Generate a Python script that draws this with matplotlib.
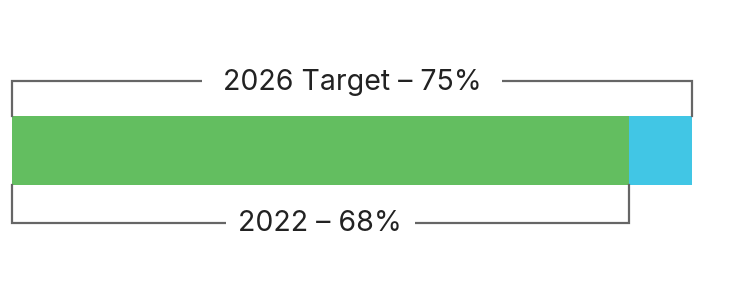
import matplotlib.pyplot as plt

# values (percent)
current_year = "2022"
current_value = 68
target_year = "2026"
target_value = 75

green = "#63BE60"
blue = "#41C6E5"
line_color = "#666666"
text_color = "#222222"

plt.rcParams["font.family"] = ["Inter", "DejaVu Sans"]

fig = plt.figure(figsize=(7.5, 3), dpi=100)
ax = fig.add_axes([0, 0, 1, 1])

# scale: 0% at 12px, 75% at 692px
px_per_unit = 680 / 75
ax.set_xlim(-12 / px_per_unit, (750 - 12) / px_per_unit)
ax.set_ylim(300, 0)
ax.axis("off")

bar_y = 150.5
bar_h = 69
ax.barh(bar_y, current_value, height=bar_h, left=0, color=green, linewidth=0)
ax.barh(bar_y, target_value - current_value, height=bar_h, left=current_value,
        color=blue, linewidth=0)

top_y = 81
bot_y = 222.5
bar_top = bar_y - bar_h / 2
bar_bot = bar_y + bar_h / 2

# target bracket (above)
ax.plot([0, 0, target_value, target_value], [bar_top, top_y, top_y, bar_top],
        color=line_color, lw=1.6, solid_joinstyle="miter", zorder=1)
# current bracket (below)
ax.plot([0, 0, current_value, current_value], [bar_bot, bot_y, bot_y, bar_bot],
        color=line_color, lw=1.6, solid_joinstyle="miter", zorder=1)

ax.text(target_value / 2, top_y + 1, f"{target_year} Target \u2013 {target_value}%",
        ha="center", va="center", fontsize=20.5, color=text_color, zorder=3,
        bbox=dict(boxstyle="square,pad=0.72", fc="white", ec="none"))
ax.text(current_value / 2, bot_y + 1, f"{current_year} \u2013 {current_value}%",
        ha="center", va="center", fontsize=20.5, color=text_color, zorder=3,
        bbox=dict(boxstyle="square,pad=0.45", fc="white", ec="none"))

fig.savefig("out.png", dpi=100)
